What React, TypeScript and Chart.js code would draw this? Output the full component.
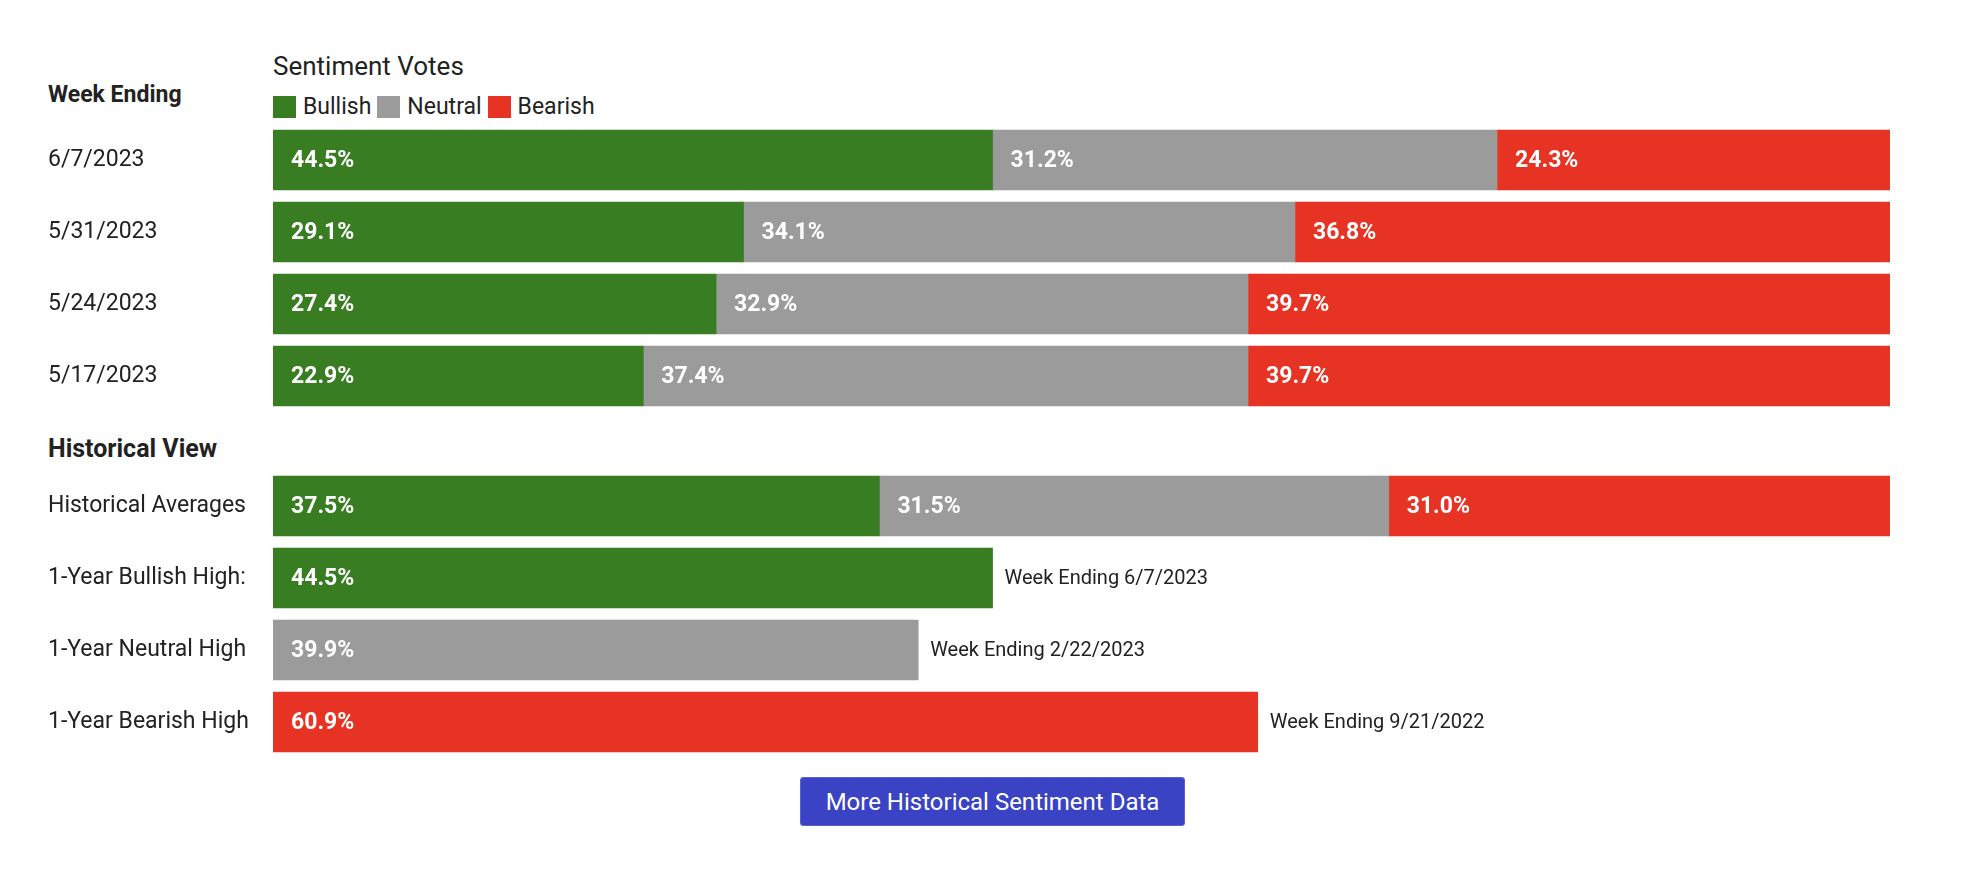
import React, { useEffect, useRef } from "react";
import { Chart, registerables } from "chart.js";

Chart.register(...registerables);

// ---------- data ----------
const weekLabels = ["6/7/2023", "5/31/2023", "5/24/2023", "5/17/2023"];
const weekBullish = [44.5, 29.1, 27.4, 22.9];
const weekNeutral = [31.2, 34.1, 32.9, 37.4];
const weekBearish = [24.3, 36.8, 39.7, 39.7];

const histLabels = ["Historical Averages", "1-Year Bullish High:", "1-Year Neutral High", "1-Year Bearish High"];
const histBullish = [37.5, 44.5, null, null];
const histNeutral = [31.5, null, 39.9, null];
const histBearish = [31.0, null, null, 60.9];
const histNotes = ["", "Week Ending 6/7/2023", "Week Ending 2/22/2023", "Week Ending 9/21/2022"];

const seriesNames = ["Bullish", "Neutral", "Bearish"];
const seriesColors = ["#387d22", "#9b9b9b", "#e73323"];

const FONT = "Roboto, 'Noto Sans', sans-serif";
const TEXT = "#222222";

function makeLabelPlugin(notes: string[] | null) {
  return {
    id: "valueLabels",
    afterDatasetsDraw(chart: any) {
      const ctx = chart.ctx;
      ctx.save();
      ctx.textBaseline = "middle";
      ctx.textAlign = "left";
      const rightEnds: number[] = [];
      const centers: number[] = [];
      chart.data.datasets.forEach((ds: any, di: number) => {
        const meta = chart.getDatasetMeta(di);
        meta.data.forEach((el: any, i: number) => {
          const v = ds.data[i];
          if (v == null) return;
          const left = Math.min(el.x, el.base);
          const right = Math.max(el.x, el.base);
          rightEnds[i] = Math.max(rightEnds[i] ?? 0, right);
          centers[i] = el.y;
          ctx.font = `bold 23px ${FONT}`;
          ctx.fillStyle = "#ffffff";
          ctx.fillText(v.toFixed(1) + "%", left + 18, el.y + 1);
        });
      });
      if (notes) {
        ctx.font = `20px ${FONT}`;
        ctx.fillStyle = TEXT;
        notes.forEach((n, i) => {
          if (!n || rightEnds[i] == null) return;
          ctx.fillText(n, rightEnds[i] + 12, centers[i] + 1);
        });
      }
      ctx.restore();
    },
  };
}

function buildConfig(labels: string[], series: (number | null)[][], notes: string[] | null): any {
  return {
    type: "bar",
    data: {
      labels,
      datasets: series.map((d, k) => ({
        label: seriesNames[k],
        data: d,
        backgroundColor: seriesColors[k],
        borderWidth: 0,
        barThickness: 60,
      })),
    },
    options: {
      indexAxis: "y",
      responsive: false,
      animation: false,
      layout: { padding: { left: 48, right: 76, top: 0, bottom: 0 } },
      plugins: { legend: { display: false }, tooltip: { enabled: false } },
      scales: {
        x: { stacked: true, min: 0, max: 100, display: false },
        y: {
          stacked: true,
          grid: { display: false },
          border: { display: false },
          ticks: { color: TEXT, font: { family: FONT, size: 23 }, crossAlign: "far", padding: 0 },
          afterFit(scale: any) {
            scale.width = 225;
            scale.paddingTop = 0;
            scale.paddingBottom = 0;
          },
        },
      },
    },
    plugins: [makeLabelPlugin(notes)],
  };
}

function BarChart({ labels, series, notes, top }: { labels: string[]; series: (number | null)[][]; notes: string[] | null; top: number }) {
  const ref = useRef<HTMLCanvasElement | null>(null);
  useEffect(() => {
    if (!ref.current) return;
    const chart = new Chart(ref.current, buildConfig(labels, series, notes));
    return () => chart.destroy();
  }, []);
  return (
    <canvas
      ref={ref}
      width={1966}
      height={288}
      style={{ position: "absolute", left: 0, top, width: 1966, height: 288, display: "block" }}
    />
  );
}

export default function App() {
  const textBase: React.CSSProperties = {
    position: "absolute",
    fontFamily: FONT,
    color: TEXT,
    lineHeight: "30px",
    whiteSpace: "nowrap",
  };
  return (
    <div style={{ position: "absolute", left: 0, top: 0, width: 1966, height: 870, background: "#fff" }}>
      <div style={{ ...textBase, left: 273, top: 51, fontSize: 26 }}>Sentiment Votes</div>
      <div style={{ ...textBase, left: 48, top: 80, fontSize: 23, fontWeight: 700 }}>Week Ending</div>
      <div style={{ ...textBase, left: 273, top: 92, fontSize: 23, display: "flex", alignItems: "center" }}>
        {seriesNames.map((n, k) => (
          <React.Fragment key={n}>
            <span style={{ display: "inline-block", width: 23, height: 22, background: seriesColors[k], marginRight: 7 }} />
            <span style={{ marginRight: 6 }}>{n}</span>
          </React.Fragment>
        ))}
      </div>
      <BarChart labels={weekLabels} series={[weekBullish, weekNeutral, weekBearish]} notes={null} top={124} />
      <div style={{ ...textBase, left: 48, top: 434, fontSize: 25, fontWeight: 700 }}>Historical View</div>
      <BarChart labels={histLabels} series={[histBullish, histNeutral, histBearish]} notes={histNotes} top={470} />
      <div
        style={{
          position: "absolute",
          left: 800,
          top: 777,
          width: 385,
          height: 49,
          boxSizing: "border-box",
          background: "#3a43c3",
          border: "1px solid #5a61cf",
          borderRadius: 3,
          color: "#fff",
          fontFamily: FONT,
          fontSize: 24,
          display: "flex",
          alignItems: "center",
          justifyContent: "center",
        }}
      >
        More Historical Sentiment Data
      </div>
    </div>
  );
}
